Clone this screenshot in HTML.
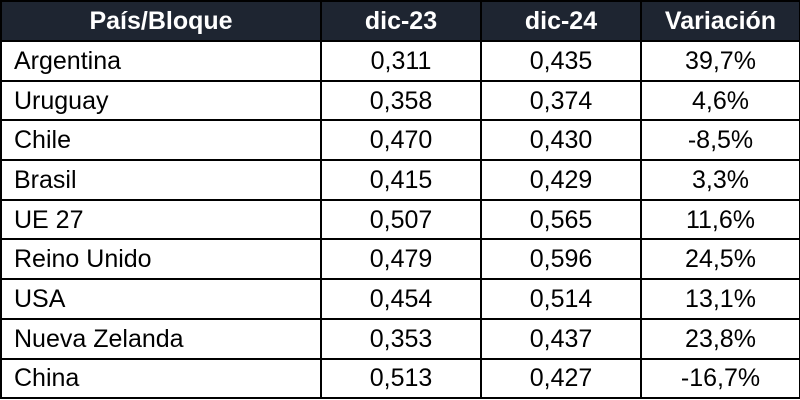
<!DOCTYPE html>
<html><head><meta charset="utf-8"><style>
body{margin:0;width:800px;height:400px;background:#fff;overflow:hidden}
table{position:absolute;left:0;top:0;width:799px;border-collapse:collapse;font-family:"Liberation Sans",sans-serif;font-size:25px;color:#000;table-layout:fixed}
td,th{border:2px solid #000;padding:0;height:37.7px;line-height:30px;text-align:center;overflow:hidden;white-space:nowrap}
th{background:#1e2531;color:#fff;font-weight:bold;font-size:25px;height:38px;border-color:#000}
td:first-child{text-align:left;padding-left:12px}
col.a{width:320px}col.b{width:160px}col.c{width:160px}col.d{width:159px}
</style></head><body>
<table>
<colgroup><col class="a"><col class="b"><col class="c"><col class="d"></colgroup>
<tr><th>País/Bloque</th><th>dic-23</th><th>dic-24</th><th>Variación</th></tr>
<tr><td>Argentina</td><td>0,311</td><td>0,435</td><td>39,7%</td></tr>
<tr><td>Uruguay</td><td>0,358</td><td>0,374</td><td>4,6%</td></tr>
<tr><td>Chile</td><td>0,470</td><td>0,430</td><td>-8,5%</td></tr>
<tr><td>Brasil</td><td>0,415</td><td>0,429</td><td>3,3%</td></tr>
<tr><td>UE 27</td><td>0,507</td><td>0,565</td><td>11,6%</td></tr>
<tr><td>Reino Unido</td><td>0,479</td><td>0,596</td><td>24,5%</td></tr>
<tr><td>USA</td><td>0,454</td><td>0,514</td><td>13,1%</td></tr>
<tr><td>Nueva Zelanda</td><td>0,353</td><td>0,437</td><td>23,8%</td></tr>
<tr><td>China</td><td>0,513</td><td>0,427</td><td>-16,7%</td></tr>
</table>
</body></html>
